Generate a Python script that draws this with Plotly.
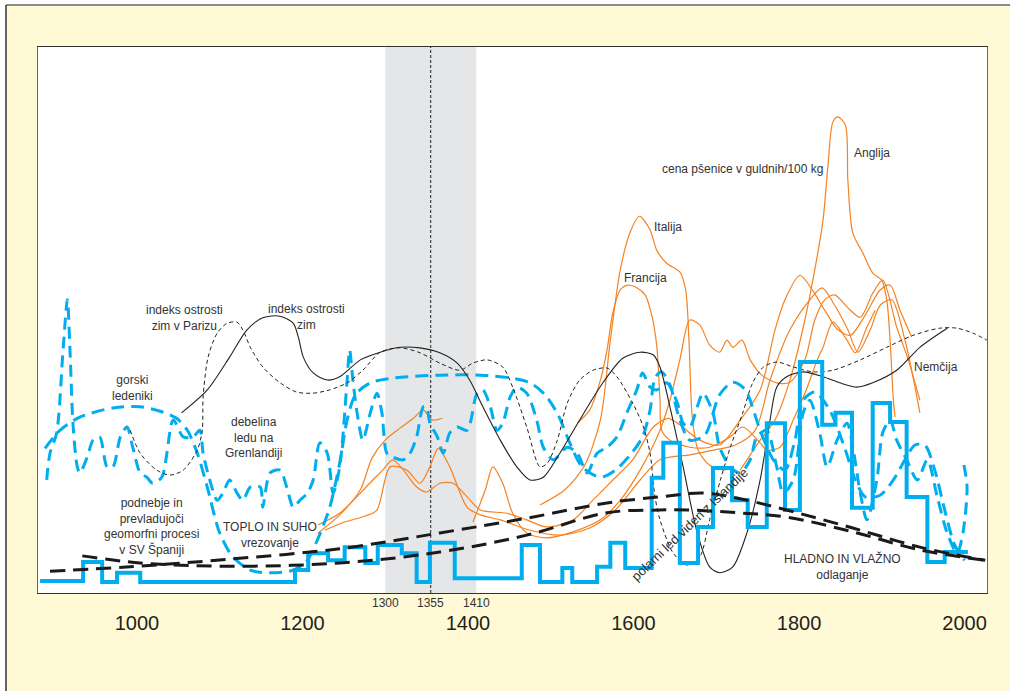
import plotly.graph_objects as go

# ---------------- data (years / relative index 0-100) ----------------
STEP_YEARS = [883, 935, 958, 976, 1004, 1191, 1207, 1231, 1251, 1276, 1291, 1320, 1338, 1354, 1384,
              1465, 1487, 1514, 1526, 1556, 1572, 1590, 1622, 1636, 1656, 1678, 1696, 1719, 1738,
              1761, 1783, 1801, 1828, 1844, 1864, 1889, 1910, 1930, 1955, 1976, 2004]
STEP_VALS = [2.2, 5.7, 2.0, 3.7, 2.0, 4.2, 7.3, 6.0, 8.4, 5.5, 8.8, 7.3, 2.0, 9.2, 2.7,
             8.8, 2.0, 4.6, 2.0, 4.8, 9.2, 4.6, 21.1, 27.5, 5.5, 12.1, 22.9, 17.0, 12.1,
             31.1, 15.2, 42.3, 30.8, 33.0, 15.6, 34.8, 31.3, 17.6, 5.7, 7.5, 7.5]

WARM_YEARS = [895, 992, 1112, 1245, 1366, 1471, 1568, 1632, 1684, 1725, 1785, 1865, 1946, 2025]
WARM_VALS = [4.0, 4.8, 6.2, 8.1, 11.0, 13.7, 16.5, 17.6, 18.3, 17.4, 15.2, 11.9, 8.4, 6.0]

WET_YEARS = [934, 1004, 1112, 1245, 1366, 1471, 1568, 1632, 1665, 1725, 1785, 1865, 1946, 2025]
WET_VALS = [6.8, 5.5, 4.9, 5.5, 7.5, 10.6, 14.7, 15.2, 15.2, 14.7, 13.9, 11.2, 7.9, 6.0]

WINTER_YEARS = [1054, 1085, 1112, 1133, 1152, 1173, 1189, 1195, 1201, 1213, 1230, 1245, 1270, 1294,
                1318, 1342, 1366, 1387, 1402, 1418, 1439, 1459, 1475, 1491, 1511, 1535, 1563, 1587,
                1608, 1624, 1632, 1644, 1660, 1677, 1692, 1704, 1720, 1737, 1753, 1765, 1773, 1785,
                1805, 1829, 1849, 1870, 1889, 1918, 1946, 1979]
WINTER_VALS = [33.0, 37.2, 43.2, 48.2, 50.4, 50.7, 49.4, 46.9, 43.2, 40.3, 39.0, 39.6, 42.7, 44.1,
               45.0, 44.9, 44.0, 42.1, 39.0, 34.1, 28.0, 23.1, 20.7, 21.2, 25.6, 31.7, 38.5, 43.0,
               44.1, 43.6, 41.4, 34.1, 23.1, 11.0, 4.8, 3.7, 4.8, 11.0, 20.7, 31.7, 37.7, 39.6,
               40.5, 39.6, 38.5, 37.7, 38.5, 40.8, 45.0, 48.5]

PARIS_YEARS = [992, 1004, 1024, 1040, 1056, 1073, 1079, 1080, 1086, 1097, 1109, 1121, 1128, 1137,
               1152, 1173, 1193, 1213, 1233, 1254, 1273, 1294, 1318, 1342, 1366, 1390, 1406, 1423,
               1442, 1454, 1471, 1487, 1496, 1508, 1520, 1535, 1551, 1568, 1580, 1599, 1612, 1620,
               1626, 1632, 1648, 1665, 1680, 1692, 1705, 1717, 1732, 1744, 1757, 1773, 1793, 1817,
               1841, 1874, 1906, 1938, 1970, 1991, 2010, 2027]
PARIS_VALS = [29.8, 25.6, 22.5, 21.6, 22.5, 26.2, 29.8, 35.9, 43.2, 47.6, 49.4, 49.6, 48.2, 45.0,
              41.4, 38.5, 36.8, 36.6, 37.2, 38.5, 40.8, 44.1, 44.9, 44.0, 42.1, 40.8, 42.1, 42.7,
              41.4, 37.7, 30.4, 23.1, 23.8, 28.0, 34.8, 39.0, 40.8, 41.2, 39.6, 34.8, 30.4, 25.6,
              17.6, 13.4, 7.3, 5.1, 6.6, 13.4, 20.7, 26.7, 33.0, 38.5, 41.4, 42.3, 41.4, 40.5,
              40.8, 42.7, 45.0, 47.2, 48.5, 48.5, 47.6, 46.3]

GLACIER_YEARS = [889, 907, 931, 971, 1004, 1032, 1048, 1061, 1073, 1085, 1100, 1116, 1137, 1161,
                 1189, 1206, 1218, 1233, 1245, 1254, 1264, 1282, 1312, 1366, 1415, 1451, 1475, 1493,
                 1509, 1523, 1538, 1560, 1578, 1596, 1611, 1620, 1626, 1634, 1644, 1656, 1668, 1686,
                 1704, 1720, 1735, 1753, 1769, 1783, 1795, 1805, 1819, 1837, 1856, 1868, 1880, 1898,
                 1914, 1928, 1940, 1952, 1964, 1976, 1988, 2000]
GLACIER_VALS = [26.5, 29.8, 32.2, 33.9, 34.1, 33.1, 32.0, 29.8, 25.6, 19.4, 11.0, 6.6, 4.2, 3.7,
                4.2, 6.0, 9.7, 15.7, 23.8, 31.7, 36.3, 38.5, 39.4, 39.9, 39.9, 39.4, 38.5, 36.3,
                32.6, 27.5, 23.1, 21.2, 22.5, 25.3, 28.6, 33.5, 39.4, 40.5, 38.1, 31.7, 28.0, 28.9,
                36.3, 38.6, 37.2, 29.8, 24.4, 22.5, 28.0, 35.3, 36.8, 33.5, 26.2, 20.7, 17.6, 17.9,
                20.7, 24.4, 27.1, 27.1, 22.5, 15.2, 8.8, 6.0]

GREENLAND_YEARS = [891, 895, 903, 911, 916, 919, 923, 928, 931, 940, 947, 955, 964, 971, 980, 988,
                   995, 1004, 1012, 1019, 1030, 1044, 1056, 1068, 1076, 1080, 1088, 1097, 1104, 1112,
                   1121, 1128, 1137, 1149, 1152, 1161, 1173, 1181, 1189, 1197, 1206, 1213, 1221, 1230,
                   1237, 1245, 1254, 1257, 1261, 1266, 1273, 1282, 1290, 1296, 1302, 1309, 1322, 1330,
                   1338, 1346, 1350, 1354, 1363, 1370, 1378, 1387, 1399, 1411, 1418, 1427, 1435, 1442,
                   1451, 1459, 1471, 1483, 1491, 1503, 1520, 1532, 1544, 1556, 1568, 1580, 1592, 1604,
                   1611, 1620, 1628, 1640, 1653, 1660, 1668, 1677, 1684, 1696, 1704, 1717, 1729, 1741,
                   1749, 1761, 1773, 1781, 1793, 1805, 1813, 1825, 1834, 1846, 1858, 1865, 1874, 1882,
                   1894, 1901, 1910, 1918, 1930, 1943, 1955, 1967, 1979, 1991, 1998, 2003, 1998]
GREENLAND_VALS = [20.7, 25.6, 29.3, 45.0, 53.7, 45.0, 30.4, 23.1, 22.0, 24.9, 28.0, 28.6, 23.1, 23.1,
                  28.6, 30.4, 26.7, 22.0, 21.2, 20.1, 21.2, 31.7, 28.6, 28.6, 29.8, 25.6, 20.7, 17.0,
                  18.3, 20.7, 18.3, 17.0, 19.4, 19.4, 15.7, 22.0, 22.5, 19.4, 15.7, 17.0, 18.3, 20.7,
                  27.5, 25.6, 18.3, 23.1, 39.0, 44.5, 39.0, 33.0, 28.0, 33.0, 36.6, 33.0, 25.6, 24.9,
                  24.4, 25.6, 28.6, 34.1, 34.1, 31.1, 28.6, 25.6, 29.3, 30.4, 29.8, 36.6, 37.2, 34.1,
                  29.8, 31.1, 35.9, 37.7, 36.6, 31.7, 26.7, 24.4, 26.7, 25.6, 22.0, 25.6, 26.7, 28.6,
                  33.0, 37.2, 40.3, 37.7, 37.2, 38.5, 34.8, 31.1, 30.4, 34.1, 36.6, 33.0, 26.7, 23.1,
                  22.0, 24.4, 28.6, 29.8, 23.1, 18.3, 20.7, 33.0, 35.3, 29.3, 23.1, 28.0, 31.1, 26.7,
                  18.3, 13.4, 20.7, 29.3, 31.7, 28.0, 24.4, 20.7, 24.4, 17.6, 11.0, 7.3, 11.0, 19.4,
                  24.4]

# wheat prices (guilders / 100 kg, relative scale)
WHEAT_A_YEARS = [1219, 1245, 1270, 1284, 1300, 1318, 1334, 1346, 1357, 1369]
WHEAT_A_VALS = [11.0, 14.3, 18.9, 24.7, 28.0, 30.2, 32.0, 33.5, 31.7, 32.0]

WHEAT_B_YEARS = [1219, 1245, 1270, 1285, 1297, 1309, 1322, 1338, 1350, 1366, 1382, 1399, 1415, 1447,
                 1471, 1495, 1527, 1551, 1575, 1599, 1624, 1642, 1656, 1680, 1704, 1729, 1753, 1771,
                 1783, 1801, 1816, 1831, 1847, 1862, 1880, 1898, 1910, 1922, 1936]
WHEAT_B_VALS = [12.5, 14.6, 18.3, 20.7, 22.5, 24.4, 22.5, 19.4, 18.5, 20.1, 20.1, 17.6, 15.2, 14.6,
                13.4, 12.1, 13.4, 17.0, 20.7, 24.4, 30.4, 32.0, 30.8, 28.0, 27.1, 31.7, 37.2, 48.2,
                53.7, 58.2, 55.5, 51.8, 48.2, 47.2, 50.9, 55.5, 56.4, 51.8, 46.9]

WHEAT_C_YEARS = [1227, 1251, 1276, 1290, 1306, 1326, 1342, 1354, 1364, 1378, 1399, 1415, 1439, 1475,
                 1511, 1547, 1578, 1608, 1632, 1668, 1698, 1723, 1747, 1765, 1789, 1813, 1828, 1843,
                 1859, 1871, 1886, 1898, 1912, 1928, 1946]
WHEAT_C_VALS = [11.5, 13.0, 14.1, 15.2, 23.1, 22.5, 20.1, 23.1, 26.5, 23.1, 15.7, 14.3, 13.4, 11.5,
                10.6, 11.9, 15.2, 20.7, 24.4, 25.3, 26.2, 27.1, 29.8, 39.0, 48.2, 53.7, 55.9, 52.7,
                48.2, 44.1, 48.2, 52.7, 53.7, 46.3, 33.0]

WHEAT_D_YEARS = [1406, 1421, 1430, 1442, 1454, 1471, 1495, 1527, 1560, 1584, 1608, 1632, 1644, 1656,
                 1668, 1680, 1692, 1704, 1713, 1720, 1731, 1741, 1755, 1773, 1789, 1807, 1819, 1831,
                 1843, 1858, 1874, 1889, 1901, 1918, 1932, 1946]
WHEAT_D_VALS = [13.0, 18.9, 23.1, 20.1, 14.6, 11.0, 10.1, 11.2, 13.4, 17.0, 22.5, 29.8, 35.3, 42.7,
                50.0, 49.1, 45.4, 44.1, 46.3, 45.0, 46.3, 42.7, 39.9, 38.5, 38.6, 42.7, 50.0, 53.7,
                54.6, 52.4, 50.5, 54.9, 57.3, 48.7, 42.7, 35.3]

FRANCE_YEARS = [1532, 1547, 1560, 1568, 1575, 1584, 1593, 1604, 1614, 1622, 1628, 1632, 1634, 1644,
                1668, 1692, 1717, 1732, 1753, 1761, 1777, 1793, 1810, 1822, 1829, 1841, 1858, 1868,
                1882, 1892]
FRANCE_VALS = [31.1, 33.5, 39.0, 44.5, 51.3, 55.5, 56.4, 55.9, 54.6, 50.9, 45.4, 35.3, 29.8, 28.0,
               26.7, 26.7, 28.6, 30.4, 27.5, 26.2, 26.7, 31.7, 37.7, 42.7, 45.0, 49.6, 46.3, 44.0,
               48.7, 51.8]

ITALY_YEARS = [1487, 1517, 1541, 1560, 1572, 1584, 1596, 1607, 1620, 1628, 1640, 1656, 1663, 1667,
               1671, 1678, 1692, 1711]
ITALY_VALS = [16.1, 18.9, 23.4, 31.7, 46.3, 59.2, 66.1, 69.0, 66.5, 62.8, 60.4, 58.8, 55.5, 46.3,
              32.2, 26.2, 23.4, 22.5]

ENGLAND_YEARS = [1729, 1753, 1771, 1789, 1807, 1819, 1829, 1835, 1841, 1847, 1856, 1859, 1865, 1877,
                 1889, 1900, 1906, 1910, 1914, 1916]
ENGLAND_VALS = [22.5, 28.0, 31.7, 39.0, 50.0, 59.2, 68.3, 78.4, 86.3, 87.2, 85.7, 75.6, 65.9, 62.3,
                58.6, 57.3, 53.7, 46.3, 35.3, 32.2]

BAND_START, BAND_END, MID_YEAR = 1300, 1410, 1355
TICK_YEARS = [1000, 1200, 1400, 1600, 1800, 2000]
TICK_LABELS = ["1000", "1200", "1400", "1600", "1800", "2000"]
SMALL_TICKS = [1300, 1355, 1410]

CYAN = "#00aeef"
ORANGE = "#f58220"
FONT = "Liberation Sans, Arial, sans-serif"
TXT = "#333333"

fig = go.Figure()

# orange wheat price lines
for xs, ys in [(WHEAT_A_YEARS, WHEAT_A_VALS), (WHEAT_B_YEARS, WHEAT_B_VALS),
               (WHEAT_C_YEARS, WHEAT_C_VALS), (WHEAT_D_YEARS, WHEAT_D_VALS),
               (FRANCE_YEARS, FRANCE_VALS), (ITALY_YEARS, ITALY_VALS),
               (ENGLAND_YEARS, ENGLAND_VALS)]:
    fig.add_trace(go.Scatter(x=xs, y=ys, mode="lines",
                             line=dict(color=ORANGE, width=1.2, shape="spline", smoothing=0.8),
                             hoverinfo="skip"))

# cyan dashed
fig.add_trace(go.Scatter(x=GREENLAND_YEARS, y=GREENLAND_VALS, mode="lines",
                         line=dict(color=CYAN, width=3, dash="12px,7px", shape="spline", smoothing=0.8)))
fig.add_trace(go.Scatter(x=GLACIER_YEARS, y=GLACIER_VALS, mode="lines",
                         line=dict(color=CYAN, width=3, dash="13px,7px", shape="spline", smoothing=0.8)))

# winter severity indices
fig.add_trace(go.Scatter(x=PARIS_YEARS, y=PARIS_VALS, mode="lines",
                         line=dict(color="#222222", width=1, dash="4px,3px", shape="spline", smoothing=0.8)))
fig.add_trace(go.Scatter(x=WINTER_YEARS, y=WINTER_VALS, mode="lines",
                         line=dict(color="#222222", width=1.1, shape="spline", smoothing=0.8)))

# Spain step line
fig.add_trace(go.Scatter(x=STEP_YEARS, y=STEP_VALS, mode="lines",
                         line=dict(color=CYAN, width=4, shape="hv")))

# thick black dashed trends
for xs, ys in [(WARM_YEARS, WARM_VALS), (WET_YEARS, WET_VALS)]:
    fig.add_trace(go.Scatter(x=xs, y=ys, mode="lines",
                             line=dict(color="#1a1a1a", width=3, dash="15px,8px", shape="spline", smoothing=1)))

# paper-coordinate helpers for the outer frame (plot area spans 949 x 546 px)
FX0 = -32 / 949.0   # outer frame left edge (6 px from page edge)
FY1 = 1 + 42 / 546.0  # outer frame top edge (5 px from page top)

shapes = [
    dict(type="rect", xref="x", yref="paper", x0=BAND_START, x1=BAND_END, y0=0, y1=1,
         fillcolor="#e5e6e8", line_width=0, layer="below"),
    dict(type="line", xref="x", yref="paper", x0=MID_YEAR, x1=MID_YEAR, y0=0, y1=1,
         line=dict(color="#222222", width=1, dash="3px,2px"), layer="below"),
    # white page strips outside the framed panel
    dict(type="rect", xref="paper", yref="paper", x0=-0.1, x1=FX0, y0=-0.3, y1=1.2,
         fillcolor="#ffffff", line_width=0, layer="below"),
    dict(type="rect", xref="paper", yref="paper", x0=-0.1, x1=1.1, y0=FY1, y1=1.2,
         fillcolor="#ffffff", line_width=0, layer="below"),
    dict(type="line", xref="paper", yref="paper", x0=FX0, x1=1.1, y0=FY1, y1=FY1,
         line=dict(color="#666666", width=1.5), layer="below"),
    dict(type="line", xref="paper", yref="paper", x0=FX0, x1=FX0, y0=-0.3, y1=FY1,
         line=dict(color="#333333", width=1.5), layer="below"),
]

ann = []
def label(x, y, text, size=12, angle=0):
    ann.append(dict(x=x, y=y, xref="x", yref="y", text=text, showarrow=False,
                    font=dict(family=FONT, size=size, color=TXT), textangle=angle,
                    xanchor="center", yanchor="middle", align="center"))

label(1058, 50.4, "indeks ostrosti<br>zim v Parizu")
label(1205, 50.5, "indeks ostrosti<br>zim")
label(995, 37.5, "gorski<br>ledeniki")
label(1141, 28.4, "debelina<br>ledu na<br>Grenlandiji")
label(1018, 12.1, "podnebje in<br>prevladujoči<br>geomorfni procesi<br>v SV Španiji")
label(1161, 10.6, "TOPLO IN SUHO<br>vrezovanje")
label(1732, 77.6, "cena pšenice v guldnih/100 kg")
label(1642, 67.0, "Italija")
label(1614, 57.7, "Francija")
label(1888, 80.6, "Anglija")
label(1965, 41.4, "Nemčija")
label(1853, 4.9, "HLADNO IN VLAŽNO<br>odlaganje")
label(1668, 12.5, "polarni led viden z Islandije", size=13, angle=-44)

for yr in SMALL_TICKS:
    ann.append(dict(x=yr, y=-0.018, xref="x", yref="paper", text=str(yr), showarrow=False,
                    font=dict(family=FONT, size=12, color=TXT), xanchor="center", yanchor="middle"))

fig.update_layout(
    width=1010, height=691,
    margin=dict(l=38, r=23, t=47, b=98),
    paper_bgcolor="#fff9d6",
    plot_bgcolor="#ffffff",
    showlegend=False,
    shapes=shapes,
    annotations=ann,
    xaxis=dict(range=[880.5, 2027.1], tickvals=TICK_YEARS, ticktext=TICK_LABELS,
               showgrid=False, zeroline=False, ticks="", showline=True, mirror=True,
               linecolor="#333333", linewidth=1.2, ticklabelstandoff=12,
               tickfont=dict(family=FONT, size=20, color="#231f20")),
    yaxis=dict(range=[0, 100], showticklabels=False, showgrid=False, zeroline=False,
               ticks="", showline=True, mirror=True, linecolor="#666666", linewidth=1),
)

fig.write_html("out.html", config={"displayModeBar": False},
               post_script="document.body.style.margin='0';document.body.style.overflow='hidden';")
